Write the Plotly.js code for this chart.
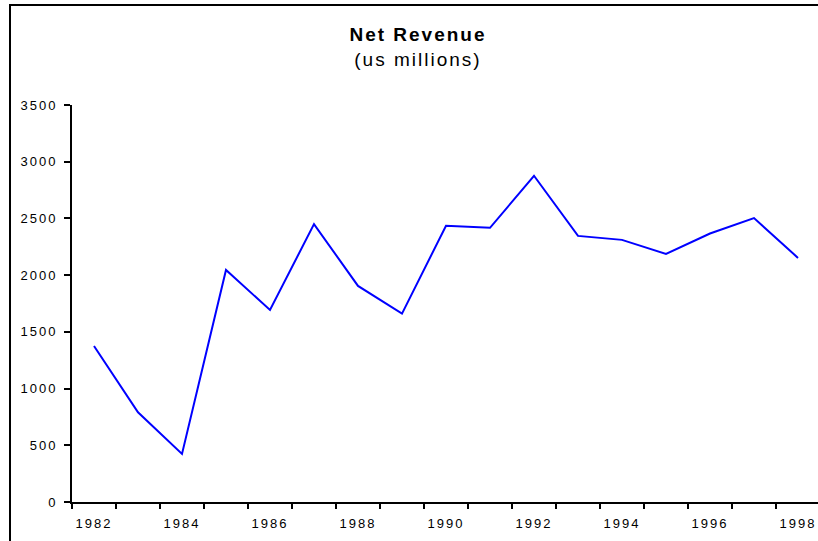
<!DOCTYPE html>
<html>
<head>
<meta charset="utf-8">
<script src="https://cdn.plot.ly/plotly-3.0.1.min.js"></script>
<style>
  html, body { margin: 0; padding: 0; width: 818px; height: 541px; overflow: hidden; background: #fff; }
  #chart { position: absolute; left: 0; top: 0; width: 830px; height: 541px; }
  #frame { position: absolute; left: 9px; top: 4px; width: 900px; height: 700px; border: 2px solid #000; box-sizing: border-box; pointer-events: none; z-index: 10; }
  #chart text { letter-spacing: 2px; }
</style>
</head>
<body>
<div id="chart"></div>
<div id="frame"></div>
<script>
const years = [1982, 1983, 1984, 1985, 1986, 1987, 1988, 1989, 1990, 1991, 1992, 1993, 1994, 1995, 1996, 1997, 1998];
const revenue = [1375, 791, 424, 2046, 1693, 2450, 1905, 1661, 2435, 2417, 2876, 2346, 2311, 2187, 2367, 2503, 2152];
const xTickLabels = ['1982', '1984', '1986', '1988', '1990', '1992', '1994', '1996', '1998'];
const xTickVals = xTickLabels.map(Number);
const yTickVals = [0, 500, 1000, 1500, 2000, 2500, 3000, 3500];

const font = 'Liberation Sans, Arial, sans-serif';

const trace = {
  x: years,
  y: revenue,
  type: 'scatter',
  mode: 'lines',
  line: { color: '#0000FF', width: 2 },
  hoverinfo: 'x+y'
};

const layout = {
  width: 830,
  height: 541,
  margin: { l: 72, r: 10, t: 105, b: 38.5 },
  paper_bgcolor: '#ffffff',
  plot_bgcolor: '#ffffff',
  showlegend: false,
  title: {
    text: '<b>Net Revenue</b><br>(us millions)',
    font: { family: font, size: 19, color: '#000' },
    xref: 'container', x: 0.5036, xanchor: 'center',
    yref: 'container', y: 0.924, yanchor: 'top'
  },
  xaxis: {
    range: [1981.5, 1998.5],
    tickmode: 'array',
    tickvals: xTickVals,
    ticktext: xTickLabels,
    ticks: '',
    showgrid: false,
    zeroline: false,
    showline: true,
    linecolor: '#000',
    linewidth: 2,
    tickfont: { family: font, size: 13, color: '#000' },
    ticklabelstandoff: 8,
    minor: { tick0: 1981.5, dtick: 1, ticks: 'outside', ticklen: 5, tickwidth: 2, tickcolor: '#000', showgrid: false },
    fixedrange: true
  },
  yaxis: {
    range: [0, 3500],
    tickmode: 'array',
    tickvals: yTickVals,
    ticks: 'outside',
    ticklen: 6,
    tickwidth: 2,
    tickcolor: '#000',
    showgrid: false,
    zeroline: false,
    showline: true,
    linecolor: '#000',
    linewidth: 2,
    tickfont: { family: font, size: 13, color: '#000' },
    ticklabelstandoff: 4,
    fixedrange: true
  }
};

Plotly.newPlot('chart', [trace], layout, { displayModeBar: false, staticPlot: true });
</script>
</body>
</html>
